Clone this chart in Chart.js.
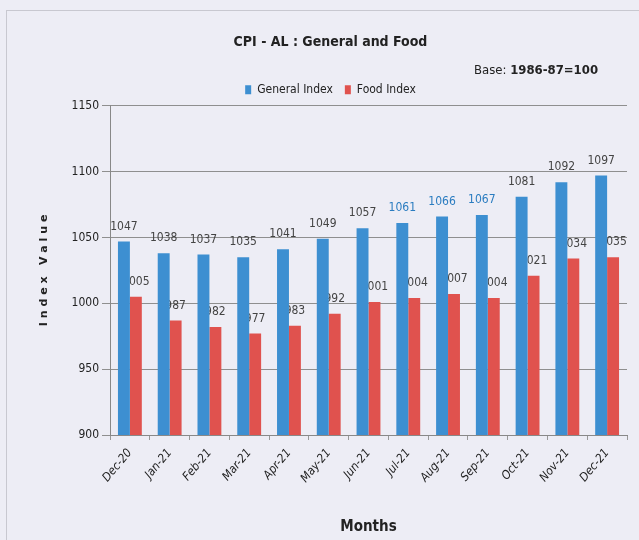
<!DOCTYPE html>
<html>
<head>
<meta charset="utf-8">
<script src="https://cdn.jsdelivr.net/npm/chart.js@4/dist/chart.umd.min.js"></script>
<style>
  body { margin: 0; background: #fff; }
  #wrap { position: relative; width: 639px; height: 540px; background: #ededf5; }
  #frame { position: absolute; left: 6px; top: 10px; right: -2px; bottom: -2px; border: 1px solid #c8c8d0; }
  #base { position: absolute; left: 474px; top: 62px; font: 13px "DejaVu Sans Condensed", sans-serif; color: #222; }
  #base b { font-weight: bold; }
</style>
</head>
<body>
<div id="wrap">
  <div id="frame"></div>
  <canvas id="chart" width="639" height="540"></canvas>
  <div id="base">Base: <b>1986-87=100</b></div>
</div>
<script>
months = ['Dec-20', 'Jan-21', 'Feb-21', 'Mar-21', 'Apr-21', 'May-21', 'Jun-21', 'Jul-21', 'Aug-21', 'Sep-21', 'Oct-21', 'Nov-21', 'Dec-21']
general_index = [1047, 1038, 1037, 1035, 1041, 1049, 1057, 1061, 1066, 1067, 1081, 1092, 1097]
food_index = [1005, 987, 982, 977, 983, 992, 1001, 1004, 1007, 1004, 1021, 1034, 1035]
y_ticks = [900, 950, 1000, 1050, 1100, 1150]

// blue labels in the original for a few months
blue_labels = ['Jul-21', 'Aug-21', 'Sep-21']

font_family = '"DejaVu Sans Condensed", "Liberation Sans", sans-serif'

// draws the value text above each bar (before the bars, so the blue bars hide part of the red labels)
valueLabels = {
    id: 'valueLabels',
    beforeDatasetsDraw: function (chart) {
        var ctx = chart.ctx
        ctx.save()
        ctx.font = '12px ' + font_family
        ctx.textAlign = 'center'
        ctx.textBaseline = 'bottom'
        chart.data.datasets.forEach(function (ds, i) {
            var meta = chart.getDatasetMeta(i)
            meta.data.forEach(function (bar, j) {
                if (i == 0 && blue_labels.indexOf(months[j]) >= 0) {
                    ctx.fillStyle = '#2a7cc0'
                } else {
                    ctx.fillStyle = '#444'
                }
                ctx.fillText(ds.data[j], bar.x, bar.y - 9)
            })
        })
        ctx.restore()
    }
}

ctx = document.getElementById('chart')
new Chart(ctx, {
    type: 'bar',
    data: {
        labels: months,
        datasets: [
            { label: 'General Index', data: general_index, backgroundColor: '#3d8fd1' },
            { label: 'Food Index', data: food_index, backgroundColor: '#e0524e' }
        ]
    },
    options: {
        responsive: false,
        animation: false,
        layout: { padding: { left: 34, right: 12, top: 0, bottom: 4 } },
        datasets: { bar: { categoryPercentage: 0.6, barPercentage: 1 } },
        plugins: {
            title: {
                display: true,
                text: 'CPI - AL : General and Food',
                color: '#222',
                font: { family: font_family, size: 14, weight: 'bold' },
                padding: { top: 34, bottom: 21 }
            },
            legend: {
                display: true,
                labels: {
                    color: '#222',
                    font: { family: font_family, size: 12 },
                    boxWidth: 6,
                    boxHeight: 9,
                    padding: 12
                }
            },
            tooltip: { enabled: false }
        },
        scales: {
            x: {
                afterFit: function (axis) { axis.height = 101 },
                grid: { display: true, drawOnChartArea: false, offset: true, tickLength: 5, color: '#999' },
                border: { color: '#888' },
                ticks: {
                    color: '#222',
                    font: { family: font_family, size: 12, style: 'italic' },
                    maxRotation: 50,
                    minRotation: 50,
                    padding: 6
                },
                title: {
                    display: true,
                    text: 'Months',
                    color: '#222',
                    font: { family: font_family, size: 15, weight: 'bold' },
                    padding: { top: 4, bottom: 0 }
                }
            },
            y: {
                min: 900,
                max: 1150,
                afterBuildTicks: function (axis) {
                    axis.ticks = y_ticks.map(function (v) { return { value: v } })
                },
                afterFit: function (axis) { axis.width = 76 },
                grid: { color: '#8f8f8f', tickLength: 8 },
                border: { color: '#888' },
                ticks: {
                    color: '#222',
                    font: { family: font_family, size: 12 },
                    padding: 3,
                    callback: function (v) { return String(v) }
                },
                title: {
                    display: true,
                    text: 'I n d e x   V a l u e',
                    color: '#222',
                    font: { family: 'DejaVu Sans', size: 11, weight: 'bold' },
                    padding: { top: 4, bottom: 0 }
                }
            }
        }
    },
    plugins: [valueLabels]
})
</script>
</body>
</html>
